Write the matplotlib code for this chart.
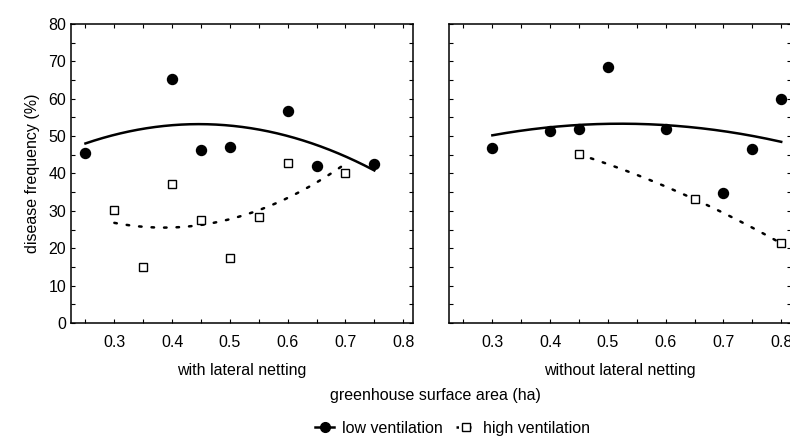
import numpy as np
import matplotlib
matplotlib.use("Agg")
import matplotlib.pyplot as plt
from matplotlib.ticker import MultipleLocator
from matplotlib.lines import Line2D

plt.rcParams['font.family'] = ['Liberation Sans', 'DejaVu Sans']
plt.rcParams['font.size'] = 11.5

# with lateral netting
with_low_x = [0.25, 0.40, 0.45, 0.50, 0.60, 0.65, 0.75]
with_low_y = [45.5, 65.4, 46.2, 47.0, 56.8, 41.9, 42.6]
with_high_x = [0.30, 0.35, 0.40, 0.45, 0.50, 0.55, 0.60, 0.70]
with_high_y = [30.2, 15.1, 37.1, 27.6, 17.3, 28.3, 42.7, 40.0]

# without lateral netting
without_low_x = [0.30, 0.40, 0.45, 0.50, 0.60, 0.70, 0.75, 0.80]
without_low_y = [46.9, 51.3, 51.8, 68.4, 51.8, 34.9, 46.6, 59.9]
without_high_x = [0.45, 0.65, 0.80]
without_high_y = [45.1, 33.1, 21.3]

xticks = [0.3, 0.4, 0.5, 0.6, 0.7, 0.8]
yticks = [0, 10, 20, 30, 40, 50, 60, 70, 80]

DOT = (0, (1, 4))


def fit_curve(ax, xs, ys, ls):
    # quadratic regression over the range of the data
    coef = np.polyfit(xs, ys, 2)
    xx = np.linspace(min(xs), max(xs), 200)
    ax.plot(xx, np.polyval(coef, xx), color='black', lw=1.8, ls=ls,
            dash_capstyle='round', zorder=2)


def panel(ax, lx, ly, hx, hy, label):
    fit_curve(ax, lx, ly, '-')
    fit_curve(ax, hx, hy, DOT)
    ax.plot(lx, ly, 'o', color='black', ms=7.2, zorder=3)
    ax.plot(hx, hy, 's', mfc='white', mec='black', mew=1.0, ms=6, zorder=3)
    ax.set_xlim(0.225, 0.817)
    ax.set_ylim(0, 80)
    ax.set_xticks(xticks)
    ax.set_yticks(yticks)
    ax.xaxis.set_minor_locator(MultipleLocator(0.05))
    ax.yaxis.set_minor_locator(MultipleLocator(5))
    ax.tick_params(which='both', direction='in', top=True, right=True,
                   length=3, width=0.8)
    ax.tick_params(axis='x', pad=9)
    for s in ax.spines.values():
        s.set_linewidth(1.1)
    ax.set_xlabel(label, labelpad=9)


fig = plt.figure(figsize=(7.9, 4.45), dpi=100)
ax1 = fig.add_axes([0.0899, 0.2742, 0.4329, 0.672])
ax2 = fig.add_axes([0.5684, 0.2742, 0.4329, 0.672])

panel(ax1, with_low_x, with_low_y, with_high_x, with_high_y, 'with lateral netting')
panel(ax2, without_low_x, without_low_y, without_high_x, without_high_y,
      'without lateral netting')
ax2.tick_params(axis='y', labelleft=False)

ax1.set_ylabel('disease frequency (%)', labelpad=6)

fig.text(0.551, 0.112, 'greenhouse surface area (ha)', ha='center', va='center')

handles = [
    Line2D([], [], color='black', lw=1.8, marker='o', ms=7),
    Line2D([], [], color='black', lw=1.8, ls=DOT, marker='s', mfc='white',
           mec='black', ms=6),
]
fig.legend(handles, ['low ventilation', 'high ventilation'], loc='center',
           bbox_to_anchor=(0.573, 0.038), ncol=2, frameon=False,
           handlelength=1.2, columnspacing=0.8, handletextpad=0.5)

fig.savefig('out.png', dpi=100)
